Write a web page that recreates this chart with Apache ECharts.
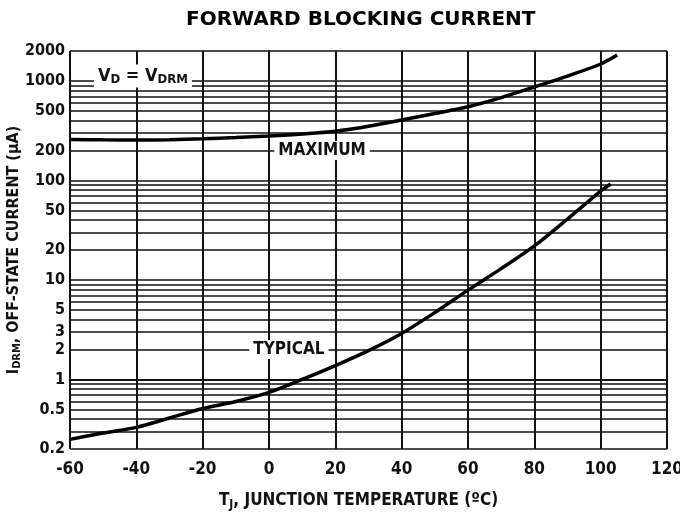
<!DOCTYPE html>
<html>
<head>
<meta charset="utf-8">
<script src="https://cdn.jsdelivr.net/npm/echarts@6/dist/echarts.min.js"></script>
<style>
html,body{margin:0;padding:0;background:#fff;}
#chart{width:680px;height:516px;}
</style>
</head>
<body>
<div id="chart"></div>
<script>
// ---- data ----
var titleText = 'FORWARD BLOCKING CURRENT';
var xTicks = [-60, -40, -20, 0, 20, 40, 60, 80, 100, 120];
var yTickValues = [0.2, 0.5, 1, 2, 3, 5, 10, 20, 50, 100, 200, 500, 1000, 2000];
var yTickLabels = ['0.2', '0.5', '1', '2', '3', '5', '10', '20', '50', '100', '200', '500', '1000', '2000'];
var yGridValues = [0.2, 0.3, 0.4, 0.5, 0.6, 0.7, 0.8, 0.9,
  1, 2, 3, 4, 5, 6, 7, 8, 9,
  10, 20, 30, 40, 50, 60, 70, 80, 90,
  100, 200, 300, 400, 500, 600, 700, 800, 900,
  1000, 2000];
var maxTemp = [-60, -50, -40, -30, -20, -10, 0, 10, 20, 30, 40, 50, 60, 70, 80, 90, 100, 105];
var maxCurrent = [258, 256, 255, 257, 262, 270, 280, 293, 312, 350, 405, 470, 550, 680, 870, 1120, 1480, 1820];
var typTemp = [-60, -50, -40, -30, -20, -10, 0, 10, 20, 30, 40, 50, 60, 70, 80, 90, 100, 103];
var typCurrent = [0.25, 0.29, 0.33, 0.41, 0.51, 0.6, 0.74, 1.0, 1.38, 1.95, 2.9, 4.7, 7.9, 13, 22, 41, 78, 92];

var LG = function (v) { return Math.log10(v); };
var yMin = 0.2, yMax = 2000;
var NARROW = '"Liberation Sans Narrow", "DejaVu Sans Condensed", "Liberation Sans", sans-serif';

function pairs(xs, ys) {
  return xs.map(function (x, i) { return [x, LG(ys[i])]; });
}
function yLabel(v) {
  for (var i = 0; i < yTickValues.length; i++) {
    if (Math.abs(LG(yTickValues[i]) - v) < 1e-6) return yTickLabels[i];
  }
  return '';
}
function boxLabel(text, x, y, size) {
  return {
    coord: [x, LG(y)],
    symbol: 'circle', symbolSize: 0,
    label: {
      show: true, position: 'inside', formatter: text,
      color: '#111', fontFamily: NARROW, fontWeight: 'bold', fontSize: size,
      backgroundColor: '#fff', padding: [1, 4, 1, 4],
      rich: {
        s: { fontFamily: NARROW, fontWeight: 'bold', fontSize: 13, color: '#111', padding: [8, 0, 0, 0] }
      }
    }
  };
}

var chart = echarts.init(document.getElementById('chart'), null, { renderer: 'canvas' });
chart.setOption({
  animation: false,
  backgroundColor: '#fff',
  title: {
    text: titleText, left: 181, top: 5,
    textStyle: { fontFamily: '"DejaVu Sans", sans-serif', fontWeight: 'bold', fontSize: 20, color: '#000' }
  },
  grid: { left: 70, right: 13, top: 51, bottom: 67, outerBoundsMode: 'none', containLabel: false },
  xAxis: {
    type: 'value', min: -60, max: 120, interval: 20,
    name: '{m|T}{s|J}{m|, JUNCTION TEMPERATURE (ºC)}',
    nameLocation: 'middle', nameGap: 42,
    nameTextStyle: {
      padding: [0, 20, 0, 0],
      rich: {
        m: { fontFamily: NARROW, fontWeight: 'bold', fontSize: 17, color: '#111' },
        s: { fontFamily: NARROW, fontWeight: 'bold', fontSize: 12, color: '#111', padding: [8, 0, 0, 0] }
      }
    },
    axisLine: { show: true, lineStyle: { color: '#111', width: 2 } },
    axisTick: { show: false },
    axisLabel: {
      color: '#111', fontFamily: NARROW, fontWeight: 'bold', fontSize: 17, margin: 12,
      formatter: function (v) { return xTicks.indexOf(v) >= 0 ? String(v) : ''; }
    },
    splitLine: { show: true, lineStyle: { color: '#111', width: 2 } }
  },
  yAxis: {
    type: 'value', min: LG(yMin), max: LG(yMax),
    name: '{m|I}{s|DRM}{m|, OFF-STATE CURRENT (μA)}',
    nameLocation: 'middle', nameGap: 47, nameMoveOverlap: false,
    nameTextStyle: {
      rich: {
        m: { fontFamily: NARROW, fontWeight: 'bold', fontSize: 16, color: '#111' },
        s: { fontFamily: NARROW, fontWeight: 'bold', fontSize: 11, color: '#111', padding: [8, 0, 0, 0] }
      }
    },
    axisLine: { show: true, lineStyle: { color: '#111', width: 2 } },
    axisTick: { show: false, customValues: yGridValues.map(LG) },
    axisLabel: {
      customValues: yTickValues.map(LG),
      color: '#111', fontFamily: NARROW, fontWeight: 'bold', fontSize: 16, margin: 5,
      formatter: yLabel
    },
    splitLine: { show: true, lineStyle: { color: '#111', width: 1.6 } }
  },
  series: [
    {
      type: 'line', name: 'MAXIMUM', data: pairs(maxTemp, maxCurrent),
      smooth: 0.3, showSymbol: false, symbol: 'none',
      lineStyle: { color: '#000', width: 3.5 },
      markPoint: {
        silent: true,
        data: [
          boxLabel('MAXIMUM', 16, 200, 17),
          boxLabel('V{s|D} = V{s|DRM}', -38, 1120, 18)
        ]
      },
      z: 5
    },
    {
      type: 'line', name: 'TYPICAL', data: pairs(typTemp, typCurrent),
      smooth: 0.3, showSymbol: false, symbol: 'none',
      lineStyle: { color: '#000', width: 3.5 },
      markPoint: {
        silent: true,
        data: [ boxLabel('TYPICAL', 6, 2, 17) ]
      },
      z: 5
    }
  ]
});
</script>
</body>
</html>
